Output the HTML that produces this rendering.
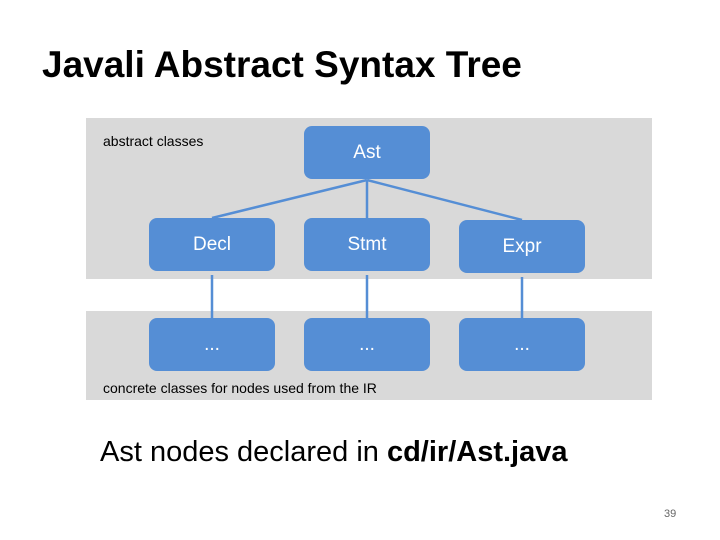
<!DOCTYPE html>
<html><head><style>
body{margin:0;width:720px;height:540px;background:#fff;position:relative;overflow:hidden;font-family:"Liberation Sans",sans-serif;}
.t{position:absolute;left:42px;top:44px;font-size:37px;font-weight:bold;color:#000;}
.band{position:absolute;left:86px;width:566px;background:#d9d9d9;}
.b{position:absolute;width:126px;height:53px;background:#558ed5;border-radius:8px;color:#fff;font-size:19px;display:flex;align-items:center;justify-content:center;}
.l{position:absolute;font-size:14px;color:#000;}
</style></head><body>
<div class="t">Javali Abstract Syntax Tree</div>
<div class="band" style="top:118px;height:161px"></div>
<div class="band" style="top:311px;height:89px"></div>
<div class="l" style="left:103px;top:133px">abstract classes</div>
<div class="l" style="left:103px;top:380px">concrete classes for nodes used from the IR</div>
<svg style="position:absolute;left:0;top:0" width="720" height="540">
<g stroke="#558ed5" stroke-width="2.5" fill="#558ed5">
<line x1="212" y1="218" x2="367" y2="180"/>
<line x1="367" y1="218" x2="367" y2="180"/>
<line x1="522" y1="220" x2="367" y2="180"/>
<line x1="212" y1="318" x2="212" y2="275"/>
<line x1="367" y1="318" x2="367" y2="275"/>
<line x1="522" y1="318" x2="522" y2="277"/>
</g></svg>
<div class="b" style="left:304px;top:126px">Ast</div>
<div class="b" style="left:149px;top:218px">Decl</div>
<div class="b" style="left:304px;top:218px">Stmt</div>
<div class="b" style="left:459px;top:220px">Expr</div>
<div class="b" style="left:149px;top:318px">...</div>
<div class="b" style="left:304px;top:318px">...</div>
<div class="b" style="left:459px;top:318px">...</div>
<div style="position:absolute;left:100px;top:436px;font-size:29px">Ast nodes declared in <b>cd/ir/Ast.java</b></div>
<div style="position:absolute;left:664px;top:508px;font-size:11px;color:#666">39</div>
</body></html>
